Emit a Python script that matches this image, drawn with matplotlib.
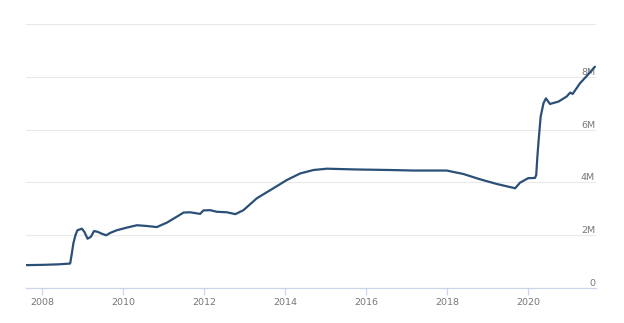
import matplotlib
matplotlib.use("Agg")
import matplotlib.pyplot as plt
from matplotlib.ticker import FuncFormatter

# total assets (in M units, decimal years)
years = [2007.60, 2008.00, 2008.40, 2008.69, 2008.73, 2008.77, 2008.82, 2008.87,
         2008.98, 2009.04, 2009.12, 2009.20, 2009.28, 2009.37, 2009.47, 2009.58,
         2009.68, 2009.84, 2010.09, 2010.34, 2010.59, 2010.83, 2011.08, 2011.30,
         2011.49, 2011.65, 2011.90, 2011.98, 2012.15, 2012.31, 2012.56, 2012.77,
         2012.97, 2013.30, 2013.71, 2014.04, 2014.37, 2014.70, 2015.03, 2015.77,
         2016.60, 2017.17, 2017.99, 2018.40, 2018.81, 2019.23, 2019.68, 2019.80,
         2020.00, 2020.17, 2020.20, 2020.23, 2020.26, 2020.31, 2020.38, 2020.44,
         2020.54, 2020.75, 2020.95, 2021.04, 2021.10, 2021.28, 2021.49, 2021.65]
assets_m = [0.87, 0.88, 0.90, 0.93, 1.30, 1.70, 2.00, 2.19,
            2.25, 2.13, 1.87, 1.94, 2.16, 2.13, 2.06, 2.00,
            2.09, 2.19, 2.29, 2.38, 2.35, 2.31, 2.48, 2.68,
            2.86, 2.87, 2.81, 2.94, 2.95, 2.89, 2.87, 2.80,
            2.95, 3.40, 3.78, 4.09, 4.34, 4.47, 4.52, 4.49,
            4.47, 4.45, 4.45, 4.32, 4.12, 3.94, 3.78, 3.99,
            4.16, 4.17, 4.28, 5.00, 5.60, 6.49, 7.00, 7.18,
            6.97, 7.06, 7.25, 7.40, 7.35, 7.75, 8.10, 8.38]

x_ticks = [2008, 2010, 2012, 2014, 2016, 2018, 2020]
y_ticks = [0, 2, 4, 6, 8, 10]


def fmt_m(v, pos):
    if v == 0:
        return "0"
    if v >= 10:
        return ""
    return f"{v:g}M"


fig = plt.figure(figsize=(6.24, 3.23), dpi=100)
ax = fig.add_axes([0.0417, 0.108, 0.913, 0.818])

ax.plot(years, assets_m, color="#2b5077", lw=1.6, solid_capstyle="round")

ax.set_xlim(2007.6, 2021.67)
ax.set_ylim(0, 10)
ax.set_xticks(x_ticks)
ax.set_yticks(y_ticks)
ax.yaxis.set_major_formatter(FuncFormatter(fmt_m))

ax.grid(axis="y", color="#e9e9e9", lw=0.8)
ax.set_axisbelow(True)
for s in ["top", "left", "right"]:
    ax.spines[s].set_visible(False)
ax.spines["bottom"].set_color("#ccd6eb")
ax.spines["bottom"].set_linewidth(0.9)

ax.tick_params(axis="x", colors="#ccd6eb", length=5, width=0.9, pad=2,
               labelcolor="#777777", labelsize=6.8)
ax.tick_params(axis="y", left=False, labelleft=False, right=False,
               labelright=True, pad=-4, labelcolor="#777777", labelsize=6.8)
for lab in ax.get_yticklabels():
    lab.set_horizontalalignment("right")
    lab.set_verticalalignment("bottom")

fig.savefig("out.png", dpi=100)
plt.close(fig)
